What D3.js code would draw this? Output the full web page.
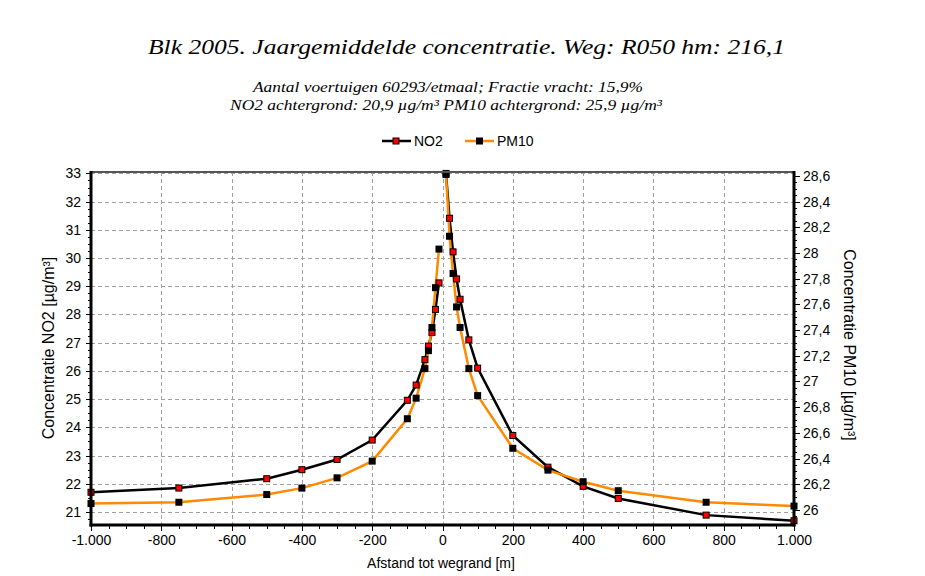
<!DOCTYPE html>
<html lang="nl">
<head>
    <meta charset="UTF-8">
    <title>Blk 2005. Jaargemiddelde concentratie</title>

    <!-- Load d3.js -->
    <script src="https://d3js.org/d3.v7.min.js"></script>

    <style>
        body { margin: 0; background: #ffffff; }
        svg { display: block; }
        .tick text { font-family: "Liberation Sans", Arial, sans-serif; font-size: 14px; fill: #000; }
        .axis-title { font-family: "Liberation Sans", Arial, sans-serif; font-size: 14px; fill: #000; }
        .title { font-family: "Liberation Serif", "DejaVu Serif", serif; font-style: italic; fill: #000; }
    </style>
</head>
<body>

    <div id="chart"></div>

    <script>

        // afstand tot wegrand [m]
        var distances = [-1000, -750, -500, -400, -300, -200, -100, -75, -50, -40, -30, -20, -10,
                         10, 20, 30, 40, 50, 75, 100, 200, 300, 400, 500, 750, 1000];

        // concentratie NO2 [ug/m3]
        var no2 = [21.70, 21.85, 22.18, 22.50, 22.86, 23.55, 24.96, 25.50, 26.40, 26.88, 27.36, 28.18, 29.12,
                   33.00, 31.41, 30.22, 29.26, 28.54, 27.10, 26.10, 23.71, 22.59, 21.91, 21.48, 20.89, 20.69];

        // concentratie PM10 [ug/m3]
        var pm10 = [26.05, 26.06, 26.12, 26.17, 26.25, 26.38, 26.71, 26.87, 27.10, 27.24, 27.42, 27.73, 28.03,
                    28.61, 28.13, 27.84, 27.58, 27.42, 27.10, 26.89, 26.48, 26.31, 26.22, 26.15, 26.06, 26.03];

        var xTicks = [-1000, -800, -600, -400, -200, 0, 200, 400, 600, 800, 1000];
        var no2Ticks = [21, 22, 23, 24, 25, 26, 27, 28, 29, 30, 31, 32, 33];
        var pm10Ticks = [26, 26.2, 26.4, 26.6, 26.8, 27, 27.2, 27.4, 27.6, 27.8, 28, 28.2, 28.4, 28.6];

        var titleText = "Blk 2005. Jaargemiddelde concentratie. Weg: R050 hm: 216,1";
        var subtitle1 = "Aantal voertuigen 60293/etmaal; Fractie vracht: 15,9%";
        var subtitle2 = "NO2 achtergrond: 20,9 µg/m³ PM10 achtergrond: 25,9 µg/m³";

        var width = 925, height = 576;
        var plot = {left: 91, right: 794, top: 172, bottom: 525};

        var nl = d3.formatLocale({decimal: ",", thousands: ".", grouping: [3], currency: ["€", ""], minus: "-"});

        var svg = d3.select("#chart")
            .append("svg")
            .attr("width", width)
            .attr("height", height);

        // scales
        var x = d3.scaleLinear().domain([-1000, 1000]).range([plot.left, plot.right]);
        var yL = d3.scaleLinear().domain([20.54, 33.05]).range([plot.bottom, plot.top]);
        var yR = d3.scaleLinear().domain([25.883, 28.63]).range([plot.bottom, plot.top]);

        // titles (the original font is wider, so stretch to its width)
        svg.append("text").attr("class", "title")
            .attr("x", 148).attr("y", 54)
            .attr("font-size", 21)
            .attr("textLength", 637)
            .attr("lengthAdjust", "spacingAndGlyphs")
            .text(titleText);

        svg.append("text").attr("class", "title")
            .attr("x", 253).attr("y", 92)
            .attr("font-size", 14)
            .attr("textLength", 390)
            .attr("lengthAdjust", "spacingAndGlyphs")
            .text(subtitle1);

        svg.append("text").attr("class", "title")
            .attr("x", 230).attr("y", 110)
            .attr("font-size", 14)
            .attr("textLength", 432)
            .attr("lengthAdjust", "spacingAndGlyphs")
            .text(subtitle2);

        // grid
        var grid = svg.append("g")
            .attr("stroke", "#a0a0a0")
            .attr("stroke-width", 1)
            .attr("stroke-dasharray", "4,3")
            .attr("shape-rendering", "crispEdges");

        grid.selectAll("line.h")
            .data(no2Ticks)
            .enter()
            .append("line")
                .attr("x1", plot.left).attr("x2", plot.right)
                .attr("y1", function(d) { return Math.round(yL(d)) + 0.5; })
                .attr("y2", function(d) { return Math.round(yL(d)) + 0.5; });

        grid.selectAll("line.v")
            .data(xTicks.slice(1, -1))
            .enter()
            .append("line")
                .attr("y1", plot.top).attr("y2", plot.bottom)
                .attr("x1", function(d) { return Math.round(x(d)) + 0.5; })
                .attr("x2", function(d) { return Math.round(x(d)) + 0.5; });

        // data rows, left and right of the road drawn separately
        var rows = distances.map(function(d, i) { return {d: d, no2: no2[i], pm10: pm10[i]}; });
        var sides = [rows.filter(function(r) { return r.d < 0; }), rows.filter(function(r) { return r.d > 0; })];

        var lineNo2 = d3.line()
            .x(function(r) { return x(r.d); })
            .y(function(r) { return yL(r.no2); });

        var linePm10 = d3.line()
            .x(function(r) { return x(r.d); })
            .y(function(r) { return yR(r.pm10); });

        svg.selectAll("path.no2")
            .data(sides)
            .enter()
            .append("path")
                .attr("fill", "none")
                .attr("stroke", "#000000")
                .attr("stroke-width", 2.5)
                .attr("d", lineNo2);

        svg.selectAll("path.pm10")
            .data(sides)
            .enter()
            .append("path")
                .attr("fill", "none")
                .attr("stroke", "#ff8a00")
                .attr("stroke-width", 2.5)
                .attr("d", linePm10);

        // markers
        svg.selectAll("rect.no2")
            .data(rows)
            .enter()
            .append("rect")
                .attr("x", function(r) { return x(r.d) - 3; })
                .attr("y", function(r) { return yL(r.no2) - 3; })
                .attr("width", 6)
                .attr("height", 6)
                .attr("fill", "#ff0000")
                .attr("stroke", "#000")
                .attr("stroke-width", 1);

        svg.selectAll("rect.pm10")
            .data(rows)
            .enter()
            .append("rect")
                .attr("x", function(r) { return x(r.d) - 3.5; })
                .attr("y", function(r) { return yR(r.pm10) - 3.5; })
                .attr("width", 7)
                .attr("height", 7)
                .attr("fill", "#000000");

        // axes
        var minorX = d3.range(-1000, 1001, 50);
        var minorL = d3.range(20.75, 33.01, 0.25);
        var minorR = d3.range(25.9, 28.61, 0.05);

        svg.append("g")
            .attr("transform", "translate(0," + plot.bottom + ")")
            .call(d3.axisBottom(x).tickValues(minorX).tickSize(4).tickFormat(""));
        svg.append("g")
            .attr("transform", "translate(0," + plot.bottom + ")")
            .call(d3.axisBottom(x).tickValues(xTicks).tickSize(6).tickPadding(4).tickFormat(nl.format(",")));

        svg.append("g")
            .attr("transform", "translate(" + plot.left + ",0)")
            .call(d3.axisLeft(yL).tickValues(minorL).tickSize(3).tickFormat(""));
        svg.append("g")
            .attr("transform", "translate(" + plot.left + ",0)")
            .call(d3.axisLeft(yL).tickValues(no2Ticks).tickSize(5).tickPadding(5).tickFormat(nl.format("d")));

        svg.append("g")
            .attr("transform", "translate(" + plot.right + ",0)")
            .call(d3.axisRight(yR).tickValues(minorR).tickSize(3).tickFormat(""));
        svg.append("g")
            .attr("transform", "translate(" + plot.right + ",0)")
            .call(d3.axisRight(yR).tickValues(pm10Ticks).tickSize(6).tickPadding(3).tickFormat(nl.format(".1~f")));

        svg.selectAll(".domain").remove();
        svg.selectAll(".tick line").attr("stroke", "#000").attr("shape-rendering", "crispEdges");

        // frame
        svg.append("line")
            .attr("x1", plot.left).attr("x2", plot.right)
            .attr("y1", plot.top).attr("y2", plot.top)
            .attr("stroke", "#555").attr("stroke-width", 2);
        svg.append("line")
            .attr("x1", plot.left).attr("x2", plot.left)
            .attr("y1", plot.top - 1).attr("y2", plot.bottom + 1.5)
            .attr("stroke", "#000").attr("stroke-width", 3);
        svg.append("line")
            .attr("x1", plot.right).attr("x2", plot.right)
            .attr("y1", plot.top - 1).attr("y2", plot.bottom + 1.5)
            .attr("stroke", "#000").attr("stroke-width", 3);
        svg.append("line")
            .attr("x1", plot.left - 1.5).attr("x2", plot.right + 1.5)
            .attr("y1", plot.bottom).attr("y2", plot.bottom)
            .attr("stroke", "#000").attr("stroke-width", 3);

        // axis titles
        svg.append("text").attr("class", "axis-title")
            .attr("x", 441).attr("y", 568)
            .attr("text-anchor", "middle")
            .text("Afstand tot wegrand [m]");

        svg.append("text").attr("class", "axis-title")
            .attr("transform", "translate(54,348)rotate(-90)")
            .attr("text-anchor", "middle")
            .attr("font-size", 16)
            .style("font-size", "16px")
            .text("Concentratie NO2 [µg/m³]");

        svg.append("text").attr("class", "axis-title")
            .attr("transform", "translate(844,345)rotate(90)")
            .attr("text-anchor", "middle")
            .style("font-size", "16px")
            .text("Concentratie PM10 [µg/m³]");

        // legend
        var legend = svg.append("g");
        legend.append("line")
            .attr("x1", 382).attr("x2", 411).attr("y1", 141).attr("y2", 141)
            .attr("stroke", "#000").attr("stroke-width", 2.5);
        legend.append("rect")
            .attr("x", 393).attr("y", 138).attr("width", 6).attr("height", 6)
            .attr("fill", "#ff0000").attr("stroke", "#000").attr("stroke-width", 1);
        legend.append("text").attr("class", "axis-title")
            .attr("x", 414).attr("y", 146)
            .text("NO2");
        legend.append("line")
            .attr("x1", 465).attr("x2", 494).attr("y1", 141).attr("y2", 141)
            .attr("stroke", "#ff8a00").attr("stroke-width", 2.5);
        legend.append("rect")
            .attr("x", 476).attr("y", 137.5).attr("width", 7).attr("height", 7)
            .attr("fill", "#000");
        legend.append("text").attr("class", "axis-title")
            .attr("x", 497).attr("y", 146)
            .text("PM10");

    </script>

</body>
</html>
